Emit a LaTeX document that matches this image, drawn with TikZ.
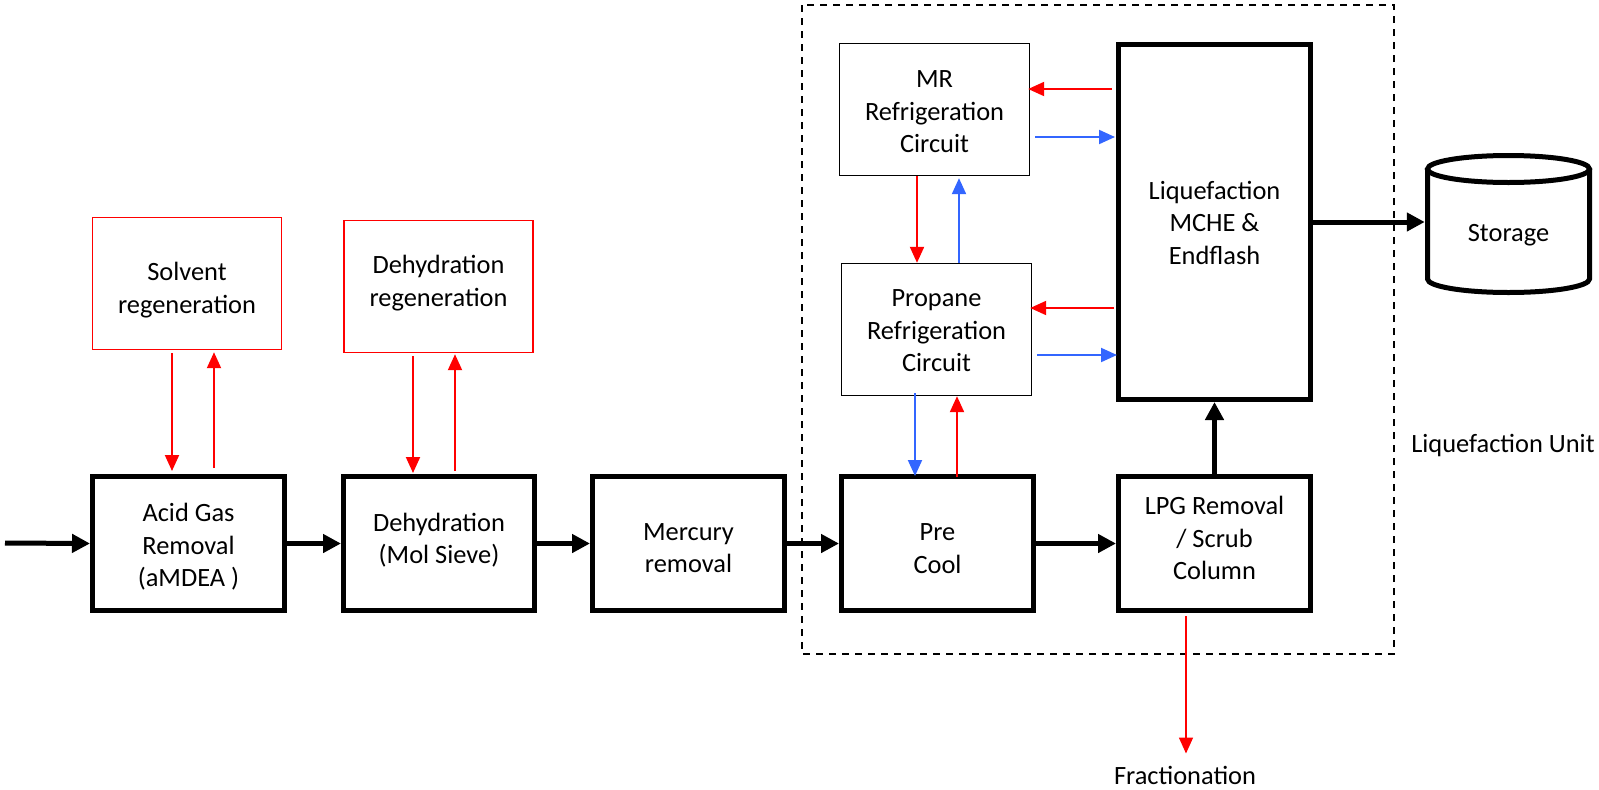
\documentclass[tikz,border=0pt]{standalone}
\usepackage{fontspec}
\setmainfont{Carlito}
\usetikzlibrary{arrows.meta,calc}
\definecolor{flowred}{RGB}{255,0,0}
\definecolor{flowblue}{RGB}{51,102,255}

\begin{document}
\begin{tikzpicture}[x=0.75pt,y=-0.75pt,
  every node/.style={font=\fontsize{19.8}{24.4}\selectfont, align=center, inner sep=0pt},
  unitbox/.style={draw=black, line width=3.75pt, minimum width=144pt, minimum height=100.5pt},
  loopbox/.style={draw=black, line width=1pt, minimum width=142.5pt, minimum height=99pt},
  regenbox/.style={draw=flowred, line width=1.1pt, minimum width=142pt, minimum height=99pt},
  mainflow/.style={line width=3.75pt, -{Triangle[length=13.5pt,width=13.5pt]}},
  hotflow/.style={draw=flowred, line width=1.5pt, -{Triangle[length=12pt,width=10.5pt]}},
  coldflow/.style={draw=flowblue, line width=1.5pt, -{Triangle[length=12pt,width=10.5pt]}}
]
\useasboundingbox (0,0) rectangle (1599,789);

% liquefaction unit boundary
\draw[line width=1.5pt, dash pattern=on 5.25pt off 4.5pt] (802,5) rectangle (1394,654);
\node (unitlabel) at (1503,445) {Liquefaction Unit};

% main process train
\node[unitbox] (agr) at (188.5,543.5) {};
\node[unitbox, minimum width=143.25pt] (dehy) at (439,543.5) {};
\node[unitbox] (hg) at (688.5,543.5) {};
\node[unitbox] (precool) at (937.5,543.5) {};
\node[unitbox] (lpg) at (1214.5,543.5) {};
\node[unitbox, minimum height=266.25pt] (liq) at (1214.5,222) {};

\node (agrtext) at (188.5,547) {Acid Gas\\Removal\\(aMDEA )};
\node (dehytext) at (439,540) {Dehydration\\(Mol Sieve)};
\node (hgtext) at (688.5,548) {Mercury\\removal};
\node (precooltext) at (937.5,548.5) {Pre\\Cool};
\node (lpgtext) at (1214.5,538) {LPG Removal\\/ Scrub\\Column};
\node (liqtext) at (1214.5,222.5) {Liquefaction\\MCHE \&\\Endflash};

% refrigeration circuits
\node[loopbox] (mr) at (934.5,109.5) {};
\node[loopbox] (propane) at (936.5,329.5) {};
\node (mrtext) at (934.5,112) {MR\\Refrigeration\\Circuit};
\node (propanetext) at (936.5,331) {Propane\\Refrigeration\\Circuit};

% regeneration units
\node[regenbox] (solvent) at (187,283.5) {};
\node[regenbox] (dregen) at (438.5,286.5) {};
\node (solventtext) at (187,290) {Solvent\\regeneration};
\node (dregentext) at (438.5,283) {Dehydration\\regeneration};

% storage tank
\draw[line width=3.75pt] (1508.5,169) ellipse [x radius=60.75pt, y radius=10.125pt];
\draw[line width=3.75pt] (1427.5,169) -- (1427.5,279)
  arc[start angle=180, end angle=360, x radius=60.75pt, y radius=10.125pt] -- (1589.5,169);
\node[minimum width=125.25pt, minimum height=20pt] (storage) at (1508.5,235) {Storage};

\node (frac) at (1185,775) {Fractionation};

% main gas flow
\coordinate (feed) at (5,543);
\draw[mainflow] (feed) -- (agr.west);
\draw[mainflow] (agr.east) -- (dehy.west);
\draw[mainflow] (dehy.east) -- (hg.west);
\draw[mainflow] (hg.east) -- (precool.west);
\draw[mainflow] (precool.east) -- (lpg.west);
\draw[mainflow] (lpg.north) -- (liq.south);
\draw[mainflow] (liq.east) -- (liq.east -| storage.west);

% regeneration loops
\draw[hotflow] ($(solvent.south)+(-15,3)$) -- ($(agr.north)+(-16.5,-3)$);
\draw[hotflow] ($(agr.north)+(25.5,-6)$) -- ($(solvent.south)+(27,2)$);
\draw[hotflow] ($(dregen.south)+(-25.5,3)$) -- ($(dehy.north)+(-26,-1)$);
\draw[hotflow] ($(dehy.north)+(16,-3)$) -- ($(dregen.south)+(16.5,1)$);

% refrigerant exchange with the main cryogenic heat exchanger
\draw[hotflow] ($(mr.east -| liq.west)+(-4,-20.5)$) -- ($(mr.east)+(-2,-20.5)$);
\draw[coldflow] ($(mr.east)+(5,27.5)$) -- ($(mr.east -| liq.west)+(-1,27.5)$);
\draw[hotflow] ($(propane.east -| liq.west)+(-2,-21.5)$) -- ($(propane.east)+(-2,-21.5)$);
\draw[coldflow] ($(propane.east)+(5,25.5)$) -- ($(propane.east -| liq.west)+(1,25.5)$);

% MR / propane circuit coupling
\draw[hotflow] ($(mr.south)+(-17.5,0)$) -- ($(propane.north)+(-19.5,0)$);
\draw[coldflow] ($(propane.north)+(22.5,0)$) -- ($(mr.south)+(24.5,2)$);

% propane precooling
\draw[coldflow] ($(propane.south)+(-21.5,-3)$) -- ($(precool.north)+(-22.5,2)$);
\draw[hotflow] ($(precool.north)+(19.5,3)$) -- ($(propane.south)+(20.5,0)$);

% heavy ends to fractionation
\path ($(lpg.south)+(-28.5,3)$) coordinate (fracin);
\draw[hotflow, line width=1.2pt] (fracin) -- ($(fracin |- frac.north)+(0,-12)$);
\end{tikzpicture}
\end{document}
